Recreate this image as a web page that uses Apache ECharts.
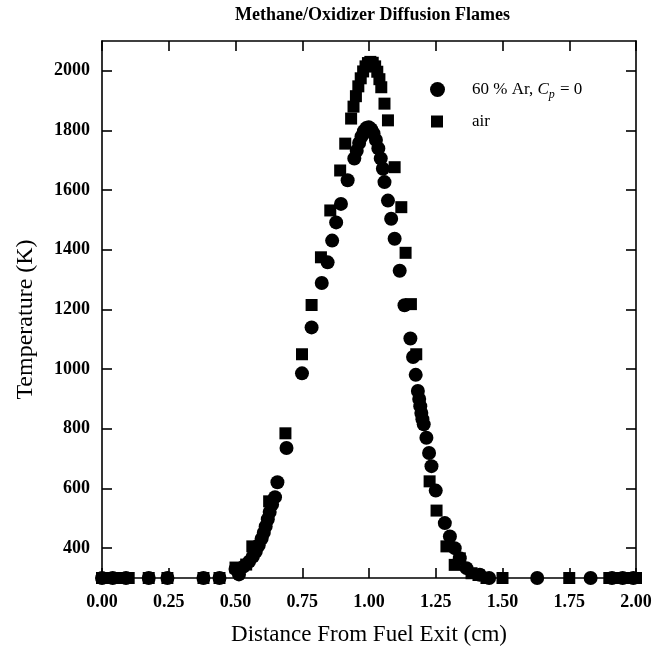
<!DOCTYPE html>
<html>
<head>
<meta charset="utf-8">
<script src="https://cdn.jsdelivr.net/npm/echarts@6/dist/echarts.min.js"></script>
<style>html,body{margin:0;padding:0;background:#fff}#c{width:655px;height:659px}</style>
</head>
<body>
<div id="c"></div>
<script>
// ---- data ----
const arX = [0.00,0.04,0.09,0.175,0.245,0.38,0.44,
  0.50,0.513,0.53,0.551,0.565,0.576,0.587,0.598,0.606,0.613,0.621,0.628,0.637,0.648,0.657,0.691,0.749,0.785,0.823,0.845,0.862,0.877,0.895,0.920,0.945,
  0.954,0.963,0.972,0.981,0.990,0.999,1.008,1.017,1.026,1.035,1.044,1.052,
  1.058,1.071,1.083,1.096,1.115,1.133,1.155,1.165,1.175,1.183,1.188,1.192,1.196,1.200,1.205,1.215,1.225,1.234,1.250,1.284,1.303,1.321,1.340,1.365,1.415,1.45,
  1.63,1.83,1.91,1.95,1.99];
const arT = [300,300,300,300,300,300,300,
  330,312,338,355,372,389,410,432,452,473,497,521,546,571,621,736,986,1140,1289,1358,1431,1492,1554,1633,1706,
  1732,1758,1780,1798,1808,1811,1804,1790,1768,1740,1706,1672,
  1627,1565,1504,1437,1330,1214,1103,1041,981,927,900,876,853,832,815,770,719,675,593,484,439,400,366,333,311,300,
  300,300,300,300,300];

const airX = [0.00,0.02,0.05,0.07,0.10,0.175,0.245,0.38,0.44,
  0.50,0.54,0.563,0.626,0.687,0.749,0.785,0.820,0.855,0.892,0.911,0.933,
  0.942,0.951,0.960,0.969,0.978,0.987,0.996,1.005,1.014,1.023,1.031,1.039,1.046,
  1.058,1.071,1.096,1.121,1.137,1.157,1.177,1.227,1.253,1.290,1.321,1.340,1.384,1.41,1.44,
  1.50,1.75,1.90,1.93,1.96,2.00];
const airT = [300,300,300,300,300,300,300,300,300,
  335,345,406,557,785,1050,1215,1375,1532,1666,1756,1840,
  1880,1915,1948,1975,1998,2015,2026,2030,2027,2015,1997,1972,1945,
  1890,1834,1677,1543,1390,1218,1050,624,526,406,344,366,316,310,300,
  300,300,300,300,300,300];

const yTicks = [400,600,800,1000,1200,1400,1600,1800,2000];
const xTickStep = 0.25;
const seriesNames = ['60 % Ar, Cp = 0', 'air'];
const titleText = 'Methane/Oxidizer Diffusion Flames';
const xName = 'Distance From Fuel Exit (cm)';
const yName = 'Temperature (K)';

const pair = (xs, ys) => xs.map((x, i) => [x, ys[i]]);

const serif = '"Liberation Serif", "Times New Roman", serif';
const lineStyle = { color: '#000', width: 1.6 };

const chart = echarts.init(document.getElementById('c'), null, { renderer: 'canvas' });
chart.setOption({
  animation: false,
  backgroundColor: '#fff',
  title: {
    text: titleText, left: 235, top: 6, padding: 0,
    textStyle: { fontFamily: serif, fontWeight: 'bold', fontSize: 18, color: '#000' }
  },
  legend: [
    {
      data: [{ name: seriesNames[0], icon: 'circle' }],
      left: 430, top: 81, padding: 0, itemWidth: 15, itemHeight: 15,
      formatter: () => '{n|60 % Ar, }{i|C}{s|p}{n| = 0}',
      textStyle: {
        color: '#000', padding: [0, 0, 0, 22],
        rich: {
          n: { fontFamily: serif, fontSize: 17, color: '#000', lineHeight: 22 },
          i: { fontFamily: serif, fontSize: 17, fontStyle: 'italic', color: '#000', lineHeight: 22 },
          s: { fontFamily: serif, fontSize: 12, fontStyle: 'italic', color: '#000', verticalAlign: 'bottom', lineHeight: 12, padding: [6, 1, 0, 0] }
        }
      }
    },
    {
      data: [{ name: seriesNames[1], icon: 'rect' }],
      left: 431, top: 113, padding: 0, itemWidth: 12, itemHeight: 12,
      textStyle: { fontFamily: serif, fontSize: 17, color: '#000', padding: [0, 0, 0, 24] }
    }
  ],
  grid: { left: 102, right: 19, top: 41, bottom: 81, containLabel: false, outerBoundsMode: 'none' },
  xAxis: [
    {
      type: 'value', min: 0, max: 2, interval: xTickStep, position: 'bottom',
      name: xName, nameLocation: 'middle', nameGap: 45,
      nameTextStyle: { fontFamily: serif, fontSize: 23, color: '#000' },
      axisLine: { show: true, onZero: false, lineStyle },
      axisTick: { show: true, inside: true, length: 10, lineStyle },
      axisLabel: { fontFamily: serif, fontWeight: 'bold', fontSize: 18, color: '#000', margin: 15,
        formatter: v => v.toFixed(2) },
      splitLine: { show: false }
    },
    {
      type: 'value', min: 0, max: 2, interval: xTickStep, position: 'top',
      axisLine: { show: true, onZero: false, lineStyle },
      axisTick: { show: true, inside: true, length: 10, lineStyle },
      axisLabel: { show: false }, splitLine: { show: false }
    }
  ],
  yAxis: [
    {
      type: 'value', min: 300, max: 2100, position: 'left',
      name: yName, nameLocation: 'middle', nameGap: 64,
      nameTextStyle: { fontFamily: serif, fontSize: 24, color: '#000', padding: [0, 20, 0, 0] },
      axisLine: { show: true, onZero: false, lineStyle },
      axisTick: { show: true, inside: true, length: 10, lineStyle, customValues: yTicks },
      axisLabel: { fontFamily: serif, fontWeight: 'bold', fontSize: 18, color: '#000', margin: 12,
        customValues: yTicks, formatter: v => String(v) },
      splitLine: { show: false }
    },
    {
      type: 'value', min: 300, max: 2100, position: 'right',
      axisLine: { show: true, onZero: false, lineStyle },
      axisTick: { show: true, inside: true, length: 10, lineStyle, customValues: yTicks },
      axisLabel: { show: false }, splitLine: { show: false }
    }
  ],
  series: [
    {
      name: seriesNames[1], type: 'scatter', symbol: 'rect', symbolSize: 12,
      xAxisIndex: 0, yAxisIndex: 0,
      itemStyle: { color: '#000', opacity: 1 },
      data: pair(airX, airT), z: 2
    },
    {
      name: seriesNames[0], type: 'scatter', symbol: 'circle', symbolSize: 14,
      xAxisIndex: 0, yAxisIndex: 0,
      itemStyle: { color: '#000', opacity: 1 },
      data: pair(arX, arT), z: 3
    }
  ]
});
</script>
</body>
</html>
